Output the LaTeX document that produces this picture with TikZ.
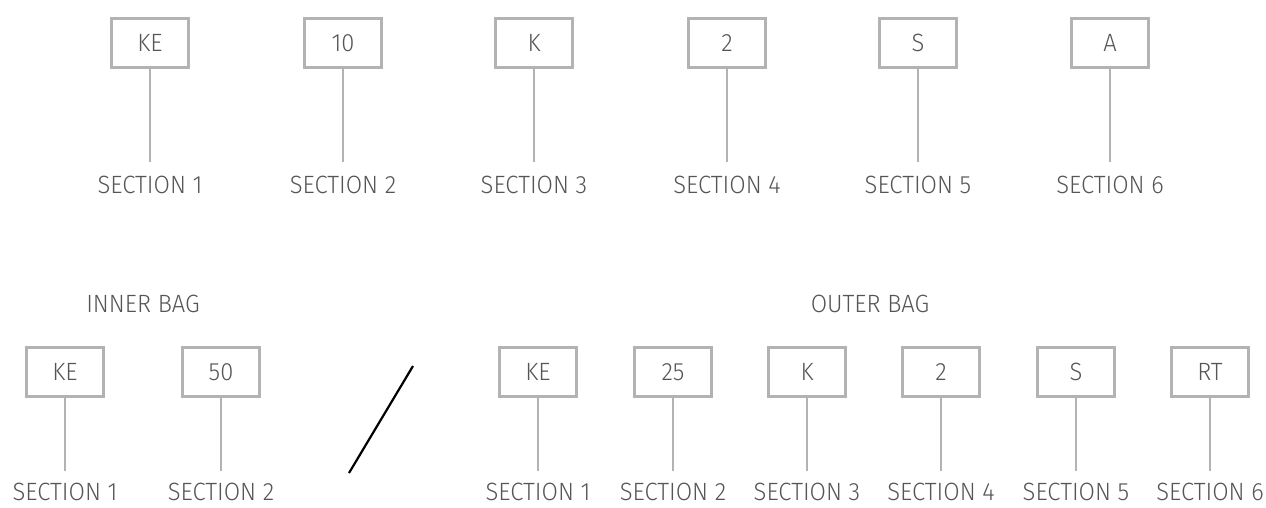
\documentclass[tikz,border=0pt]{standalone}
\usepackage{fontspec}
\setmainfont{Fira Sans}[UprightFont=* Light,FakeStretch=0.95]
\usetikzlibrary{positioning}
\definecolor{tagline}{HTML}{B3B3B3}
\definecolor{tagtext}{HTML}{555555}

\begin{document}
\begin{tikzpicture}[x=1pt,y=-1pt,
  tagfont/.style={font=\fontsize{25}{30}\selectfont,text=tagtext},
  tagbox/.style={draw=tagline,line width=2.8pt,minimum width=77pt,minimum height=49pt,inner sep=0pt,tagfont},
  seclabel/.style={anchor=base,inner sep=0pt,tagfont},
  stem/.style={draw=tagline,line width=2.6pt,shorten >=13pt}]
  \useasboundingbox (0,0) rectangle (1266,507);
  % top row
  \foreach \x/\t [count=\i] in {150/KE,343/10,534/K,727/2,918/S,1110/A} {
    \node[tagbox] (top\i) at (\x,43) {\t};
    \node[seclabel] (toplab\i) at (\x,193) {SECTION \i};
    \draw[stem] (top\i) -- (toplab\i);
  }
  % inner bag
  \node[tagfont,anchor=base] (innerhead) at (143,312) {INNER BAG};
  \foreach \x/\t [count=\i] in {65/KE,221/50} {
    \node[tagbox] (inner\i) at (\x,372) {\t};
    \node[seclabel] (innerlab\i) at (\x,500) {SECTION \i};
    \draw[stem,shorten >=11pt] (inner\i) -- (innerlab\i);
  }
  % divider
  \coordinate (slashtop) at (413,366);
  \coordinate (slashbot) at (349,473);
  \draw[line width=2.2pt] (slashtop) -- (slashbot);
  % outer bag
  \node[tagfont,anchor=base] (outerhead) at (870,312) {OUTER BAG};
  \foreach \x/\t [count=\i] in {538/KE,673/25,807/K,941/2,1076/S,1210/RT} {
    \node[tagbox] (outer\i) at (\x,372) {\t};
    \node[seclabel] (outerlab\i) at (\x,500) {SECTION \i};
    \draw[stem,shorten >=11pt] (outer\i) -- (outerlab\i);
  }
\end{tikzpicture}
\end{document}
